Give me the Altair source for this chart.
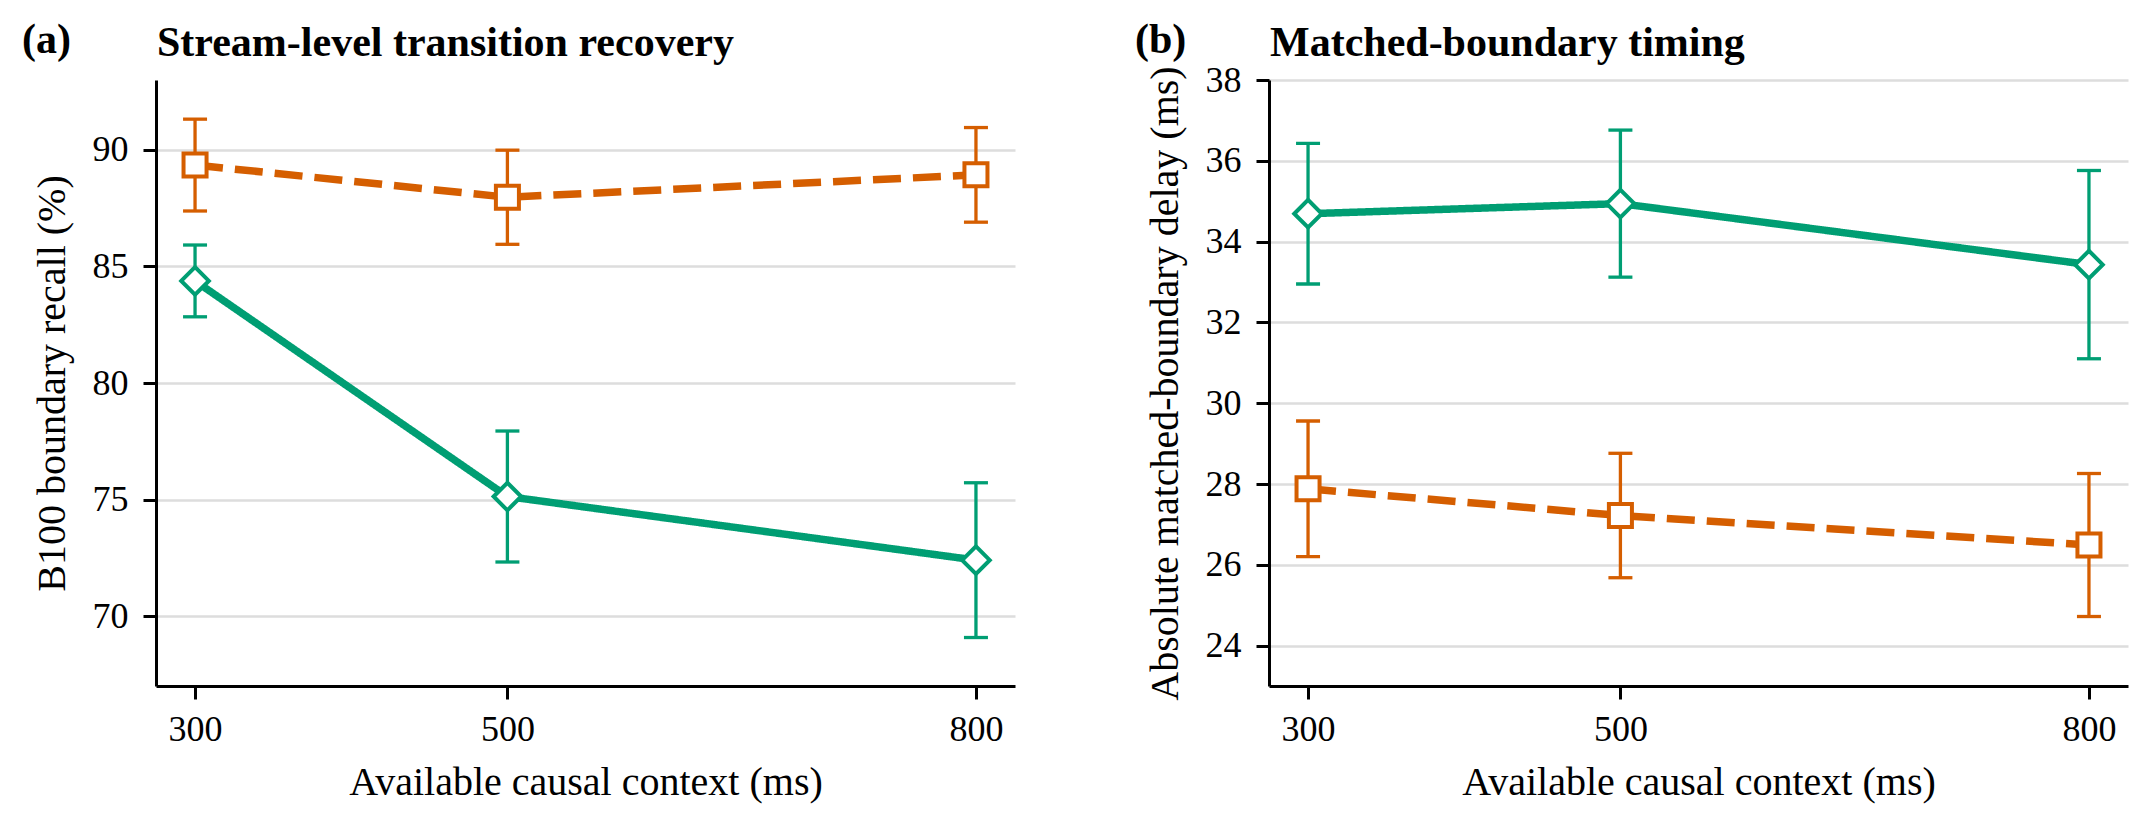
import altair as alt
import pandas as pd

# ---------------- data ----------------
contexts = [300, 500, 800]
series_names = ["Series 1", "Series 2"]   # green solid diamonds, orange dashed squares

recall_s1 = [84.38, 75.13, 72.40]
recall_s1_err = [1.54, 2.81, 3.32]
recall_s2 = [89.35, 87.97, 88.93]
recall_s2_err = [1.97, 2.02, 2.03]

delay_s1 = [34.69, 34.94, 33.43]
delay_s1_err = [1.74, 1.82, 2.33]
delay_s2 = [27.88, 27.22, 26.49]
delay_s2_err = [1.68, 1.54, 1.77]

panel_tags = ["(a)", "(b)"]
panel_titles = ["Stream-level transition recovery", "Matched-boundary timing"]
y_titles = ["B100 boundary recall (%)", "Absolute matched-boundary delay (ms)"]
x_title = "Available causal context (ms)"
x_ticks = [300, 500, 800]
recall_ticks = [70, 75, 80, 85, 90]
delay_ticks = [24, 26, 28, 30, 32, 34, 36, 38]

GREEN = "#009E73"
ORANGE = "#D55E00"
FONT = "Liberation Serif"
W, H = 859, 606


def build_df(m1, e1, m2, e2):
    rows = []
    for name, means, errs in ((series_names[0], m1, e1), (series_names[1], m2, e2)):
        for c, m, e in zip(contexts, means, errs):
            rows.append({"series": name, "context": c, "mean": m,
                         "lo": m - e, "hi": m + e})
    return pd.DataFrame(rows)


def panel(df, tag, title, ytitle, ydomain, yticks):
    x_scale = alt.Scale(domain=[275, 825], nice=False, zero=False)
    x_axis = alt.Axis(values=x_ticks, title=x_title, grid=False, format="d",
                      tickSize=13, tickWidth=3, tickColor="black",
                      domainWidth=3, domainColor="black",
                      labelFontSize=36, labelFont=FONT, labelColor="black",
                      labelPadding=13, labelFlush=False,
                      titleFontSize=40, titleFont=FONT, titleColor="black",
                      titleFontWeight="normal", titlePadding=15)
    y_scale = alt.Scale(domain=ydomain, nice=False, zero=False)
    y_axis = alt.Axis(values=yticks, title=ytitle, grid=True,
                      gridColor="#dddddd", gridWidth=2.5,
                      tickSize=13, tickWidth=3, tickColor="black",
                      domainWidth=3, domainColor="black",
                      labelFontSize=36, labelFont=FONT, labelColor="black",
                      labelPadding=15,
                      titleFontSize=40, titleFont=FONT, titleColor="black",
                      titleFontWeight="normal", titlePadding=20)
    x = alt.X("context:Q", scale=x_scale, axis=x_axis)
    color = alt.Color("series:N", scale=alt.Scale(domain=series_names, range=[GREEN, ORANGE]), legend=None)

    base = alt.Chart(df)
    rules = base.mark_rule(strokeWidth=3.3).encode(
        x=x, y=alt.Y("lo:Q", scale=y_scale, axis=y_axis), y2="hi:Q", color=color)
    cap_lo = base.mark_tick(orient="horizontal", size=24, thickness=3.3, opacity=1).encode(
        x=x, y=alt.Y("lo:Q", scale=y_scale, axis=y_axis), color=color)
    cap_hi = base.mark_tick(orient="horizontal", size=24, thickness=3.3, opacity=1).encode(
        x=x, y=alt.Y("hi:Q", scale=y_scale, axis=y_axis), color=color)
    line = base.mark_line(strokeWidth=7.5).encode(
        x=x, y=alt.Y("mean:Q", scale=y_scale, axis=y_axis), color=color,
        strokeDash=alt.StrokeDash("series:N", scale=alt.Scale(domain=series_names, range=[[1, 0], [28, 12]]), legend=None))
    pts = base.mark_point(filled=False, fill="white", fillOpacity=1, opacity=1, strokeWidth=4).encode(
        x=x, y=alt.Y("mean:Q", scale=y_scale, axis=y_axis), color=color,
        shape=alt.Shape("series:N", scale=alt.Scale(domain=series_names, range=["diamond", "square"]), legend=None),
        size=alt.Size("series:N", scale=alt.Scale(domain=series_names, range=[760, 530]), legend=None))

    tag_txt = alt.Chart(pd.DataFrame({"t": [tag]})).mark_text(
        align="left", baseline="alphabetic", font=FONT, fontSize=42, fontWeight="bold", color="black"
    ).encode(x=alt.value(-134), y=alt.value(-27), text="t:N")
    title_txt = alt.Chart(pd.DataFrame({"t": [title]})).mark_text(
        align="left", baseline="alphabetic", font=FONT, fontSize=42, fontWeight="bold", color="black"
    ).encode(x=alt.value(1), y=alt.value(-24), text="t:N")

    return alt.layer(rules, cap_lo, cap_hi, line, pts, tag_txt, title_txt).properties(width=W, height=H)


left = panel(build_df(recall_s1, recall_s1_err, recall_s2, recall_s2_err),
             panel_tags[0], panel_titles[0], y_titles[0], [67, 93], recall_ticks)
right = panel(build_df(delay_s1, delay_s1_err, delay_s2, delay_s2_err),
              panel_tags[1], panel_titles[1], y_titles[1], [23, 38], delay_ticks)

chart = alt.hconcat(left, right, spacing=120).properties(
    padding={"left": 14, "top": 11, "right": 5, "bottom": 5}
).configure(font=FONT).configure_view(strokeWidth=0)

chart.save("out.html", embed_options={"renderer": "svg", "actions": False})
